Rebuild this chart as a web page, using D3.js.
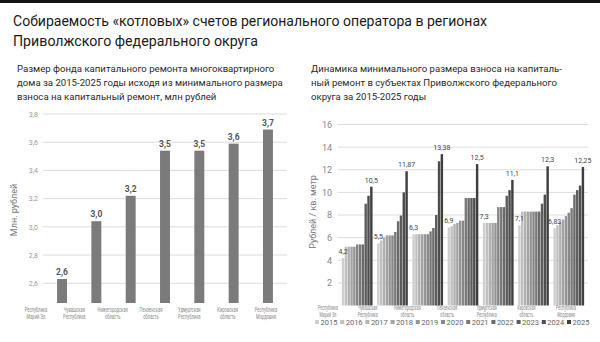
<!DOCTYPE html>
<html>
<head>
<meta charset="utf-8">
<script src="https://cdn.jsdelivr.net/npm/d3@7"></script>
<style>
  html, body { margin: 0; padding: 0; background: #fff; }
  svg { display: block; }
  text { font-family: Roboto, "Noto Sans", sans-serif; }
</style>
</head>
<body>
<svg id="chart" width="600" height="342"></svg>
<script>
// Regions of the Volga Federal District
const regions = [
  "Республика Марий Эл", "Чувашская Республика", "Нижегородская область",
  "Пензенская область", "Удмуртская Республика", "Кировская область", "Республика Мордовия"
];
const regionLines = [
  ["Республика", "Марий Эл"], ["Чувашская", "Республика"], ["Нижегородская", "область"],
  ["Пензенская", "область"], ["Удмуртская", "Республика"], ["Кировская", "область"], ["Республика", "Мордовия"]
];

// Left panel: capital repair fund per building, mln roubles
const fundValues = [2.63, 3.04, 3.22, 3.54, 3.54, 3.59, 3.69];
const fundTicks = [2.6, 2.8, 3.0, 3.2, 3.4, 3.6, 3.8];

// Right panel: minimum contribution, roubles per sq. metre, 2015-2025
const years = ["2015", "2016", "2017", "2018", "2019", "2020", "2021", "2022", "2023", "2024", "2025"];
const rateMariyEl   = [4.2, 5.2, 5.2, 5.2, 5.2, 5.4, 5.4, 5.4, 9.0, 9.7, 10.5];
const rateChuvashia = [5.5, 5.75, 6.0, 6.2, 6.2, 6.2, 6.5, 7.45, 7.95, 10.0, 11.87];
const rateNizhny    = [6.3, 6.3, 6.3, 6.3, 6.3, 6.3, 6.55, 6.85, 8.0, 12.75, 13.38];
const ratePenza     = [6.9, 7.0, 7.2, 7.3, 7.5, 7.5, 9.5, 9.5, 9.5, 9.5, 12.5];
const rateUdmurtia  = [7.3, 7.3, 7.3, 7.3, 7.3, 8.7, 8.7, 8.7, 9.7, 10.2, 11.1];
const rateKirov     = [7.1, 8.3, 8.3, 8.3, 8.3, 8.3, 8.3, 8.3, 9.0, 9.8, 12.3];
const rateMordovia  = [6.83, 7.1, 7.4, 7.6, 7.9, 8.2, 8.6, 9.8, 10.2, 10.6, 12.25];
const rateTicks = [2, 4, 6, 8, 10, 12, 14, 16];

const rateSeries = [rateMariyEl, rateChuvashia, rateNizhny, ratePenza, rateUdmurtia, rateKirov, rateMordovia];

const svg = d3.select("#chart");
const comma = s => s.replace(".", ",");

function fitTo(sel, w) {
  sel.attr("textLength", w).attr("lengthAdjust", "spacingAndGlyphs");
}

// two-line category labels, squeezed horizontally with a transform
function categoryLabels(scale, y0, dy, size, squeeze) {
  const g = svg.append("g").attr("fill", "#888").attr("font-size", size);
  regions.forEach((r, i) => {
    regionLines[i].forEach((line, j) => {
      g.append("text")
        .attr("transform", `translate(${scale(r)},${y0 + j * dy}) scale(${squeeze},1)`)
        .attr("text-anchor", "middle").text(line);
    });
  });
}

// top rule
svg.append("rect").attr("x", 0).attr("y", 0).attr("width", 600).attr("height", 3).attr("fill", "#151515");

// headline
const title = svg.append("g").attr("fill", "#1a1a1a").attr("font-size", 15.5);
fitTo(title.append("text").attr("x", 13).attr("y", 26).text("Собираемость «котловых» счетов регионального оператора в регионах"), 474);
fitTo(title.append("text").attr("x", 13).attr("y", 46).text("Приволжского федерального округа"), 245);

// panel captions
const capL = ["Размер фонда капитального ремонта многоквартирного",
              "дома за 2015-2025 годы исходя из минимального размера",
              "взноса на капитальный ремонт, млн рублей"];
const capR = ["Динамика минимального размера взноса на капиталь-",
              "ный ремонт в субъектах Приволжского федерального",
              "округа за 2015-2025 годы"];
svg.append("g").attr("fill", "#2a2a2a").attr("font-size", 9.6)
  .selectAll("text").data(capL).join("text")
  .attr("x", 17).attr("y", (d, i) => 72 + i * 14).text(d => d);
svg.append("g").attr("fill", "#2a2a2a").attr("font-size", 9.6)
  .selectAll("text").data(capR).join("text")
  .attr("x", 311).attr("y", (d, i) => 72 + i * 14).text(d => d);

/* ---------- left panel ---------- */
const xL = d3.scaleBand().domain(regions).range([43, 287]).paddingInner(0.71).paddingOuter(0.41);
const yL = d3.scaleLinear().domain([2.46, 3.8]).range([303, 114]);
const labL = d3.scalePoint().domain(regions).range([36, 266]);

svg.append("g").selectAll("line").data(fundTicks).join("line")
  .attr("x1", 43).attr("x2", 287)
  .attr("y1", d => yL(d)).attr("y2", d => yL(d))
  .attr("stroke", "#dcdcdc").attr("stroke-width", 1);

const axL = svg.append("g").attr("transform", "translate(40,0)")
  .call(d3.axisLeft(yL).tickValues(fundTicks).tickSize(0).tickPadding(2).tickFormat(d => comma(d3.format(".1f")(d))));
axL.select(".domain").remove();
axL.selectAll("text").attr("fill", "#999").attr("font-size", 7).attr("font-family", "Roboto, sans-serif");

svg.append("text").attr("transform", "translate(17,210) rotate(-90)")
  .attr("text-anchor", "middle").attr("fill", "#777").attr("font-size", 9).text("Млн. рублей");

svg.append("g").selectAll("rect").data(fundValues).join("rect")
  .attr("x", (d, i) => xL(regions[i])).attr("width", xL.bandwidth())
  .attr("y", d => yL(d)).attr("height", d => yL.range()[0] - yL(d))
  .attr("fill", "#7b7b7b");

svg.append("g").selectAll("text").data(fundValues).join("text")
  .attr("x", (d, i) => xL(regions[i]) + xL.bandwidth() / 2).attr("y", d => yL(d) - 4)
  .attr("text-anchor", "middle").attr("font-size", 8.5).attr("font-weight", "bold").attr("fill", "#555")
  .text(d => comma(d3.format(".1f")(d)));

categoryLabels(labL, 312, 7, 6.8, 0.6);

/* ---------- right panel ---------- */
const xR = d3.scaleBand().domain(regions).range([338, 588]).paddingInner(0.13).paddingOuter(0.11);
const xY = d3.scaleBand().domain(years).range([0, xR.bandwidth()]).paddingInner(0.14);
const yR = d3.scaleLinear().domain([0, 16]).range([305.5, 124.5]);
const colR = d3.scaleOrdinal().domain(years)
  .range(years.map((y, i) => d3.interpolateRgb("#cfcfcf", "#3f3f3f")(i / (years.length - 1))));
const labR = d3.scalePoint().domain(regions).range([328, 566]);

svg.append("g").selectAll("line").data(rateTicks).join("line")
  .attr("x1", 338).attr("x2", 588)
  .attr("y1", d => yR(d)).attr("y2", d => yR(d))
  .attr("stroke", "#dcdcdc").attr("stroke-width", 1);

const axR = svg.append("g").attr("transform", "translate(334,0)")
  .call(d3.axisLeft(yR).tickValues(rateTicks).tickSize(0).tickPadding(2));
axR.select(".domain").remove();
axR.selectAll("text").attr("fill", "#888").attr("font-size", 9).attr("font-family", "Roboto, sans-serif");

svg.append("text").attr("transform", "translate(316,212) rotate(-90)")
  .attr("text-anchor", "middle").attr("fill", "#777").attr("font-size", 9).text("Рублей / кв. метр");

const groups = svg.append("g").selectAll("g").data(regions).join("g")
  .attr("transform", d => `translate(${xR(d)},0)`);
groups.selectAll("rect").data((d, i) => rateSeries[i].map((v, k) => ({ year: years[k], v }))).join("rect")
  .attr("x", d => xY(d.year)).attr("width", xY.bandwidth())
  .attr("y", d => yR(d.v)).attr("height", d => yR(0) - yR(d.v))
  .attr("fill", d => colR(d.year));

// first- and last-year value labels
groups.selectAll("text").data((d, i) => [
    { year: years[0], v: rateSeries[i][0] },
    { year: years[years.length - 1], v: rateSeries[i][years.length - 1] }
  ]).join("text")
  .attr("x", d => xY(d.year) + xY.bandwidth() / 2).attr("y", d => yR(d.v) - 4)
  .attr("text-anchor", "middle").attr("font-size", 7).attr("fill", "#444")
  .attr("font-family", "'Liberation Serif', 'DejaVu Serif', serif")
  .text(d => comma(String(d.v)));

categoryLabels(labR, 310, 6.5, 6.5, 0.56);

// legend
const legend = svg.append("g").selectAll("g").data(years).join("g")
  .attr("transform", (d, i) => `translate(${315 + i * 25.2},323)`);
legend.append("rect").attr("x", 0).attr("y", -3).attr("width", 4).attr("height", 4).attr("fill", d => colR(d));
legend.append("text").attr("x", 5.5).attr("y", 1.5).attr("font-size", 7.5).attr("fill", "#666").text(d => d);
</script>
</body>
</html>
